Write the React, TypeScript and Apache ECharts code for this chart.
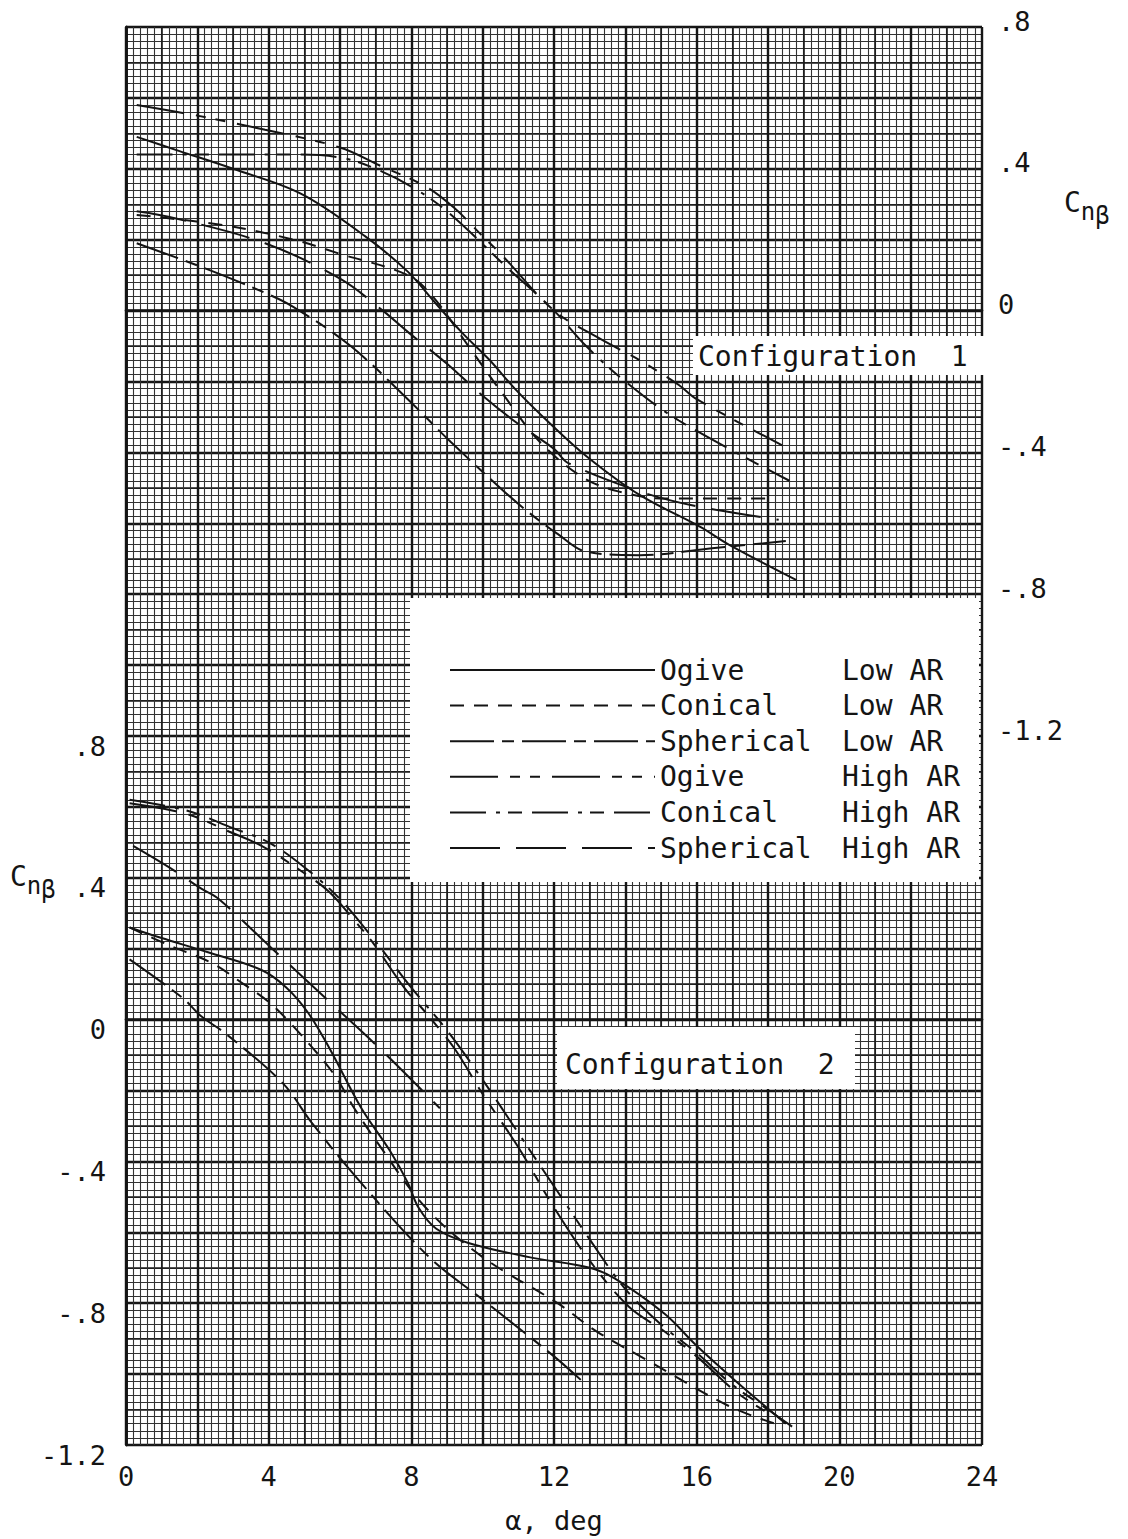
import React, { useEffect, useRef } from "react";
import * as echarts from "echarts";

const FONT = "'DejaVu Sans Mono', monospace";

// Tick labels
const alphaTicks = [0, 4, 8, 12, 16, 20, 24];
const leftTicks = [0.8, 0.4, 0, -0.4, -0.8, -1.2]; // Configuration 2 scale
const rightTicks = [0.8, 0.4, 0, -0.4, -0.8, -1.2]; // Configuration 1 scale

// Legend entries
const noseShapes = ["Ogive", "Conical", "Spherical", "Ogive", "Conical", "Spherical"];
const aspectRatios = ["Low AR", "Low AR", "Low AR", "High AR", "High AR", "High AR"];
const seriesNames = noseShapes.map((n, i) => `${n} ${aspectRatios[i]}`);

// Configuration 1 (right scale): [alpha deg, Cn_beta]
const c1OgiveLow = [[0.3, 0.49], [1.5, 0.45], [3.0, 0.40], [4.9, 0.33], [6.7, 0.21], [7.9, 0.11], [8.6, 0.03], [9.4, -0.06], [10.2, -0.14], [10.9, -0.22], [11.8, -0.31], [12.9, -0.41], [14.4, -0.52], [16.1, -0.61], [16.9, -0.66], [18.8, -0.76]];
const c1ConicalLow = [[0.3, 0.27], [2.8, 0.24], [4.7, 0.20], [6.0, 0.16], [7.9, 0.10], [8.6, 0.04], [9.6, -0.10], [10.6, -0.24], [11.6, -0.37], [12.8, -0.47], [13.8, -0.51], [15.1, -0.53], [18.2, -0.53]];
const c1SphericalLow = [[0.3, 0.19], [2.2, 0.12], [3.9, 0.05], [4.7, 0.01], [6.3, -0.10], [7.9, -0.25], [9.1, -0.37], [10.6, -0.51], [11.3, -0.57], [12.1, -0.63], [12.9, -0.68], [14.4, -0.69], [16.5, -0.67], [18.5, -0.65]];
const c1OgiveHigh = [[0.3, 0.58], [2.0, 0.55], [3.9, 0.51], [6.0, 0.46], [7.1, 0.41], [8.4, 0.35], [9.2, 0.29], [9.9, 0.22], [10.6, 0.15], [12.0, 0.0], [13.3, -0.08], [14.4, -0.14], [15.5, -0.21], [16.0, -0.25], [18.4, -0.38]];
const c1ConicalHigh = [[0.3, 0.44], [2.5, 0.44], [4.9, 0.44], [6.1, 0.43], [7.0, 0.40], [8.0, 0.35], [9.0, 0.28], [10.7, 0.12], [12.0, 0.0], [12.9, -0.10], [14.0, -0.20], [15.5, -0.31], [18.6, -0.48]];
const c1SphericalHigh = [[0.3, 0.28], [1.4, 0.26], [3.9, 0.19], [6.0, 0.09], [7.2, 0.0], [7.9, -0.06], [9.0, -0.15], [10.0, -0.24], [11.0, -0.32], [12.0, -0.39], [12.4, -0.43], [14.4, -0.51], [15.9, -0.55], [18.3, -0.59]];

// Configuration 2 (left scale): [alpha deg, Cn_beta]
const c2OgiveLow = [[0.1, 0.26], [1.0, 0.23], [2.3, 0.19], [3.8, 0.14], [4.5, 0.09], [5.1, 0.02], [5.7, -0.08], [6.6, -0.25], [7.4, -0.37], [7.9, -0.46], [8.2, -0.53], [8.7, -0.59], [9.6, -0.63], [11.3, -0.67], [13.0, -0.70], [13.7, -0.73], [15.1, -0.83], [16.0, -0.92], [17.1, -1.02], [18.5, -1.14]];
const c2ConicalLow = [[0.1, 0.26], [1.2, 0.21], [2.4, 0.16], [3.3, 0.10], [4.0, 0.05], [4.7, -0.02], [5.8, -0.15], [6.4, -0.25], [7.0, -0.34], [8.4, -0.53], [10.0, -0.67], [12.1, -0.80], [13.2, -0.88], [14.6, -0.96], [16.9, -1.09], [18.2, -1.14]];
const c2SphericalLow = [[0.1, 0.17], [1.6, 0.06], [2.1, 0.01], [2.8, -0.04], [4.4, -0.18], [5.2, -0.29], [6.5, -0.45], [8.5, -0.67], [10.0, -0.79], [12.0, -0.95], [12.9, -1.03]];
const c2OgiveHigh = [[0.1, 0.61], [1.7, 0.58], [2.9, 0.53], [3.8, 0.49], [4.9, 0.42], [5.7, 0.36], [6.4, 0.28], [6.9, 0.22], [7.8, 0.09], [8.4, 0.02], [9.2, -0.08], [10.0, -0.21], [11.0, -0.36], [12.0, -0.53], [13.0, -0.68], [14.1, -0.81], [15.1, -0.88], [16.0, -0.95], [17.1, -1.05], [18.0, -1.11]];
const c2ConicalHigh = [[0.1, 0.62], [1.7, 0.59], [3.0, 0.54], [4.0, 0.50], [5.0, 0.43], [6.0, 0.34], [7.0, 0.22], [8.0, 0.09], [9.0, -0.03], [10.0, -0.17], [11.0, -0.32], [12.0, -0.47], [13.0, -0.62], [14.0, -0.76], [15.0, -0.86], [16.0, -0.94], [17.0, -1.03], [18.0, -1.10], [18.7, -1.15]];
const c2SphericalHigh = [[0.2, 0.49], [1.2, 0.43], [2.1, 0.37], [2.6, 0.34], [4.1, 0.20], [5.6, 0.06], [7.1, -0.08], [8.8, -0.25]];

const config1 = [c1OgiveLow, c1ConicalLow, c1SphericalLow, c1OgiveHigh, c1ConicalHigh, c1SphericalHigh];
const config2 = [c2OgiveLow, c2ConicalLow, c2SphericalLow, c2OgiveHigh, c2ConicalHigh, c2SphericalHigh];

const dashPatterns: any[] = [
  "solid",
  [14, 10],
  [44, 8, 12, 8],
  [48, 12, 10, 10, 10, 12],
  [36, 10, 4, 8, 14, 10],
  [50, 16],
];

const INK = "#141414";

const fmt = (v: number) => {
  const r = Math.round(v * 10) / 10;
  if (r === 0) return "0";
  const s = Math.abs(r).toFixed(1).replace(/^0/, "");
  return (r < 0 ? "-" : "") + s;
};
const inList = (list: number[], v: number) => list.some((t) => Math.abs(t - v) < 1e-6);

function buildOption(): any {
  const mkSeries = (data: number[][], i: number, yAxisIndex: number) => ({
    name: seriesNames[i],
    type: "line",
    xAxisIndex: 0,
    yAxisIndex,
    data,
    symbol: "none",
    showSymbol: false,
    smooth: 0.35,
    lineStyle: { color: INK, width: 2, type: dashPatterns[i] },
    itemStyle: { color: INK },
    z: 3,
  });

  const series = [
    ...config1.map((d, i) => mkSeries(d, i, 1)),
    ...config2.map((d, i) => mkSeries(d, i, 0)),
  ];

  const labelStyle = { fontFamily: FONT, fontSize: 27, color: INK };
  const cnb = (x: number, y: number) => ({
    type: "text",
    z: 6,
    x,
    y,
    style: {
      text: "{c|C}{n|n}{b|β}",
      fill: INK,
      rich: {
        c: { fontFamily: FONT, fontSize: 28, verticalAlign: "top", fill: INK },
        n: { fontFamily: FONT, fontSize: 24, verticalAlign: "top", padding: [12, 0, 0, 0], fill: INK },
        b: { fontFamily: FONT, fontSize: 24, verticalAlign: "top", padding: [16, 0, 0, 0], fill: INK },
      },
    },
  });

  return {
    animation: false,
    backgroundColor: "#fff",
    grid: { left: 126, top: 27, width: 856, height: 1432, containLabel: false },
    xAxis: [
      {
        type: "value",
        min: 0,
        max: 24,
        interval: 2,
        position: "bottom",
        axisLine: { show: true, lineStyle: { color: INK, width: 2.6 } },
        axisTick: { show: false },
        axisLabel: {
          ...labelStyle,
          margin: 18,
          formatter: (v: number) => (inList(alphaTicks, v) ? String(Math.round(v)) : ""),
        },
        splitLine: { show: true, lineStyle: { color: "#0d0d0d", width: 2.4 } },
        minorTick: { show: false, splitNumber: 10 },
        minorSplitLine: { show: true, lineStyle: { color: "#333", width: 1.1 } },
        name: "α, deg",
        nameLocation: "middle",
        nameGap: 62,
        nameTextStyle: { ...labelStyle },
      },
      {
        type: "value",
        min: 0,
        max: 24,
        interval: 1,
        position: "top",
        axisLine: { show: true, lineStyle: { color: INK, width: 2.6 } },
        axisTick: { show: false },
        axisLabel: { show: false },
        splitLine: { show: true, lineStyle: { color: "#1a1a1a", width: 1.6 } },
      },
    ],
    yAxis: [
      {
        type: "value",
        position: "left",
        min: -1.2,
        max: 2.8,
        interval: 0.2,
        axisLine: { show: true, lineStyle: { color: INK, width: 2.6 } },
        axisTick: { show: false },
        axisLabel: {
          ...labelStyle,
          margin: 20,
          formatter: (v: number) => (inList(leftTicks, v) ? `{l|${fmt(v)}}` : ""),
          rich: {
            l: { fontFamily: FONT, fontSize: 27, color: INK, padding: [20, 0, 0, 0] },
          },
        },
        splitLine: { show: true, lineStyle: { color: "#0d0d0d", width: 2.4 } },
        minorTick: { show: false, splitNumber: 10 },
        minorSplitLine: { show: true, lineStyle: { color: "#333", width: 1.1 } },
      },
      {
        type: "value",
        position: "right",
        min: -3.2,
        max: 0.8,
        interval: 0.1,
        axisLine: { show: true, lineStyle: { color: INK, width: 2.6 } },
        axisTick: { show: false },
        axisLabel: {
          ...labelStyle,
          margin: 16,
          formatter: (v: number) => (inList(rightTicks, v) ? `{r|${fmt(v)}}` : ""),
          rich: {
            r: { fontFamily: FONT, fontSize: 27, color: INK, padding: [0, 0, 12, 0] },
          },
        },
        splitLine: { show: true, lineStyle: { color: "#1a1a1a", width: 1.6 } },
      },
    ],
    legend: {
      orient: "vertical",
      left: 444,
      top: 650,
      itemWidth: 205,
      itemHeight: 30,
      itemGap: 5.6,
      selectedMode: false,
      data: seriesNames,
      itemStyle: { opacity: 0 },
      lineStyle: { width: 2, color: INK },
      formatter: (name: string) => {
        const i = seriesNames.indexOf(name);
        return `{a|${noseShapes[i]}}{b|${aspectRatios[i]}}`;
      },
      textStyle: {
        fontFamily: FONT,
        fontSize: 28,
        color: INK,
        rich: {
          a: { fontFamily: FONT, fontSize: 28, color: INK, width: 182, lineHeight: 30, height: 30 },
          b: { fontFamily: FONT, fontSize: 28, color: INK, lineHeight: 30, height: 30 },
        },
      },
      z: 10,
    },
    graphic: [
      { type: "rect", z: 5, shape: { x: 693, y: 336, width: 292, height: 39 }, style: { fill: "#fff" } },
      {
        type: "text",
        z: 6,
        x: 698,
        y: 356,
        style: { text: "Configuration  1", fontFamily: FONT, fontSize: 28, fill: INK, verticalAlign: "middle" },
      },
      { type: "rect", z: 5, shape: { x: 410, y: 598, width: 569, height: 284 }, style: { fill: "#fff" } },
      { type: "rect", z: 5, shape: { x: 557, y: 1027, width: 298, height: 62 }, style: { fill: "#fff" } },
      {
        type: "text",
        z: 6,
        x: 565,
        y: 1064,
        style: { text: "Configuration  2", fontFamily: FONT, fontSize: 28, fill: INK, verticalAlign: "middle" },
      },
      cnb(1064, 188),
      cnb(10, 862),
    ],
    series,
  };
}

export default function App() {
  const ref = useRef<HTMLDivElement>(null);
  useEffect(() => {
    document.body.style.margin = "0";
    if (!ref.current) return;
    const chart = echarts.init(ref.current, null, { renderer: "svg" });
    chart.setOption(buildOption());
    return () => {
      chart.dispose();
    };
  }, []);
  return <div ref={ref} style={{ width: 1128, height: 1539, background: "#fff" }} />;
}
